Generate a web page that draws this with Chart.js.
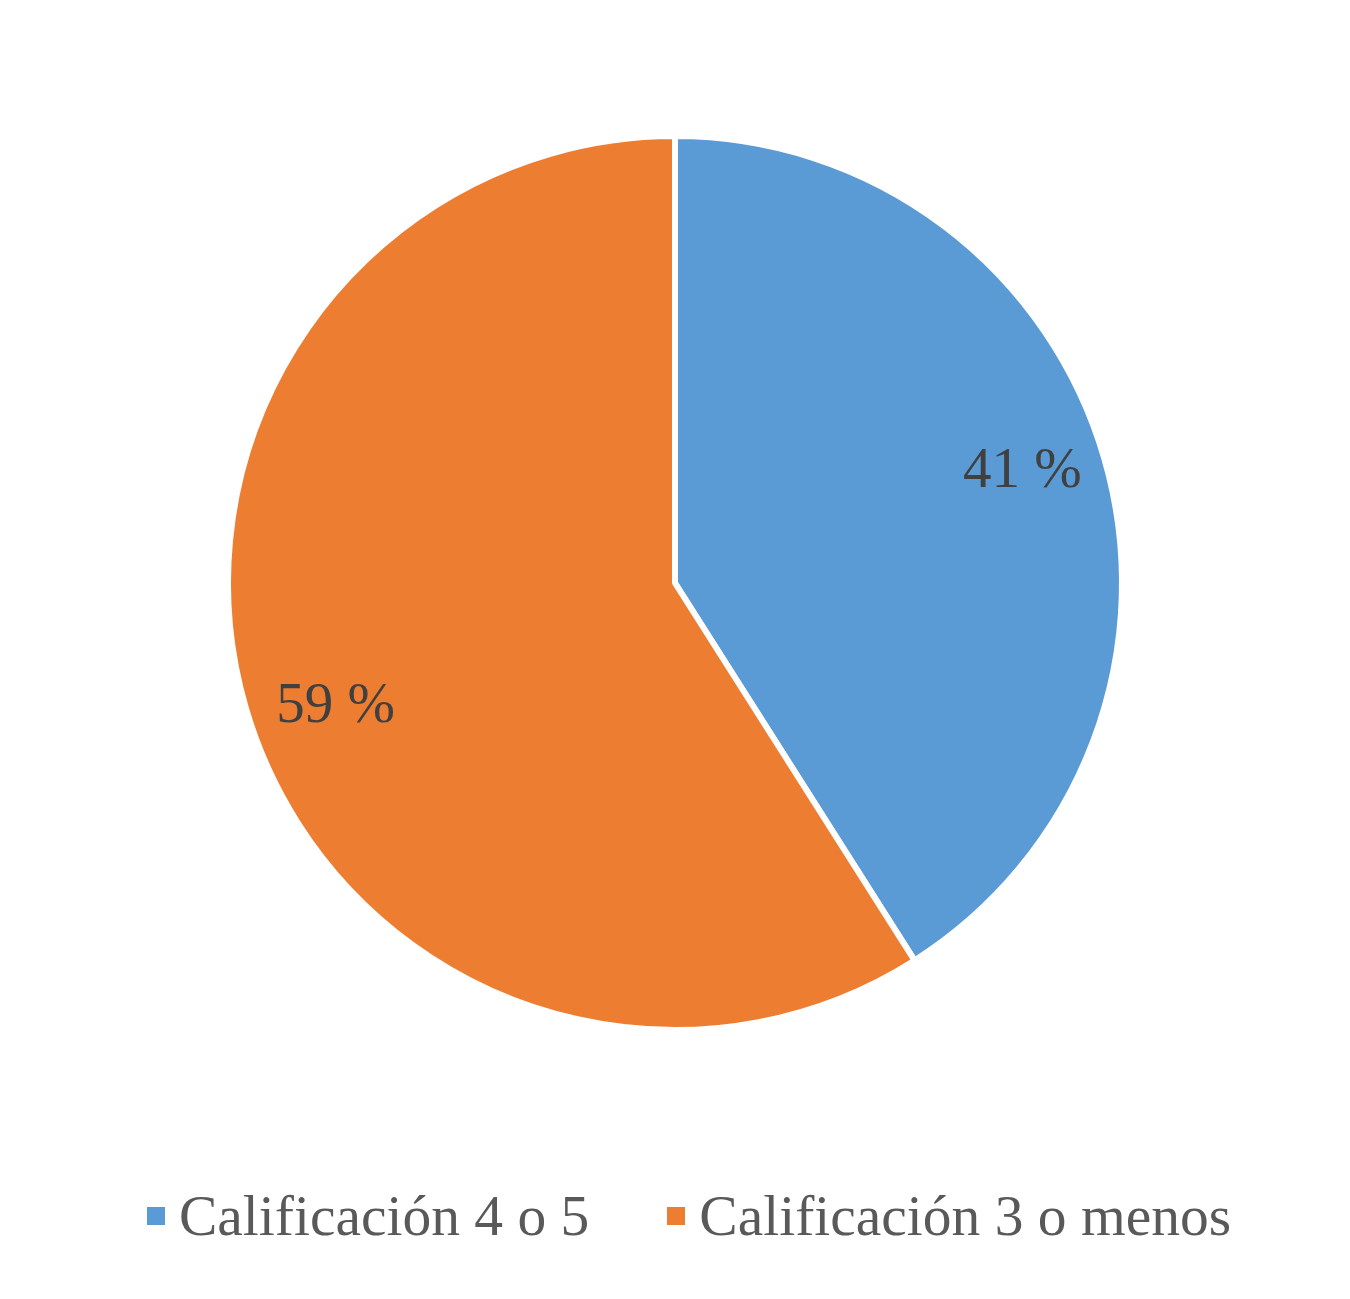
<!DOCTYPE html>
<html>
<head>
<meta charset="utf-8">
<script src="https://cdn.jsdelivr.net/npm/chart.js@4.4.0/dist/chart.umd.min.js"></script>
<style>
  html, body { margin: 0; padding: 0; background: #fff; }
  #wrap { position: relative; width: 1350px; height: 1299px; }
  #leyenda {
    position: absolute; left: 0; width: 1350px; top: 1187px;
    display: flex; justify-content: center; padding-left: 28px; box-sizing: border-box;
    font-family: "Liberation Serif", "Times New Roman", serif; font-size: 57.5px;
    line-height: 57px; color: #595959;
  }
  .item { display: flex; align-items: center; margin-right: 78px; }
  .item:last-child { margin-right: 0; }
  .caja { width: 18px; height: 18px; margin-right: 14px; }
</style>
</head>
<body>
<div id="wrap">
  <canvas id="grafico" width="1350" height="1299"></canvas>
  <div id="leyenda"></div>
</div>
<script>
const categorias = ['Calificación 4 o 5', 'Calificación 3 o menos'];
const valores = [41, 59];
const etiquetas = ['41 %', '59 %'];
const colores = ['#5B9BD5', '#ED7D31'];

// etiquetas de porcentaje dentro de cada sector
const etiquetasPlugin = {
  id: 'etiquetas',
  afterDatasetsDraw(chart) {
    const ctx = chart.ctx;
    const arcos = chart.getDatasetMeta(0).data;
    ctx.save();
    ctx.font = '57px "Liberation Serif", "Times New Roman", serif';
    ctx.fillStyle = '#404040';
    ctx.textAlign = 'center';
    ctx.textBaseline = 'middle';
    arcos.forEach((a, i) => {
      const medio = (a.startAngle + a.endAngle) / 2 - 0.047;
      const r = a.outerRadius * 0.812;
      ctx.fillText(etiquetas[i], a.x + Math.cos(medio) * r + 4, a.y + Math.sin(medio) * r + 7);
    });
    ctx.restore();
  }
};

new Chart(document.getElementById('grafico'), {
  type: 'pie',
  data: {
    labels: categorias,
    datasets: [{
      data: valores,
      backgroundColor: colores,
      borderColor: '#ffffff',
      borderWidth: 6,
      radius: 447
    }]
  },
  options: {
    responsive: false,
    animation: false,
    layout: { padding: { top: 139, bottom: 272 } },
    plugins: { legend: { display: false }, tooltip: { enabled: false } }
  },
  plugins: [etiquetasPlugin]
});

const leyenda = document.getElementById('leyenda');
categorias.forEach((c, i) => {
  const item = document.createElement('div');
  item.className = 'item';
  const caja = document.createElement('span');
  caja.className = 'caja';
  caja.style.background = colores[i];
  const texto = document.createElement('span');
  texto.textContent = c;
  item.appendChild(caja);
  item.appendChild(texto);
  leyenda.appendChild(item);
});
</script>
</body>
</html>
